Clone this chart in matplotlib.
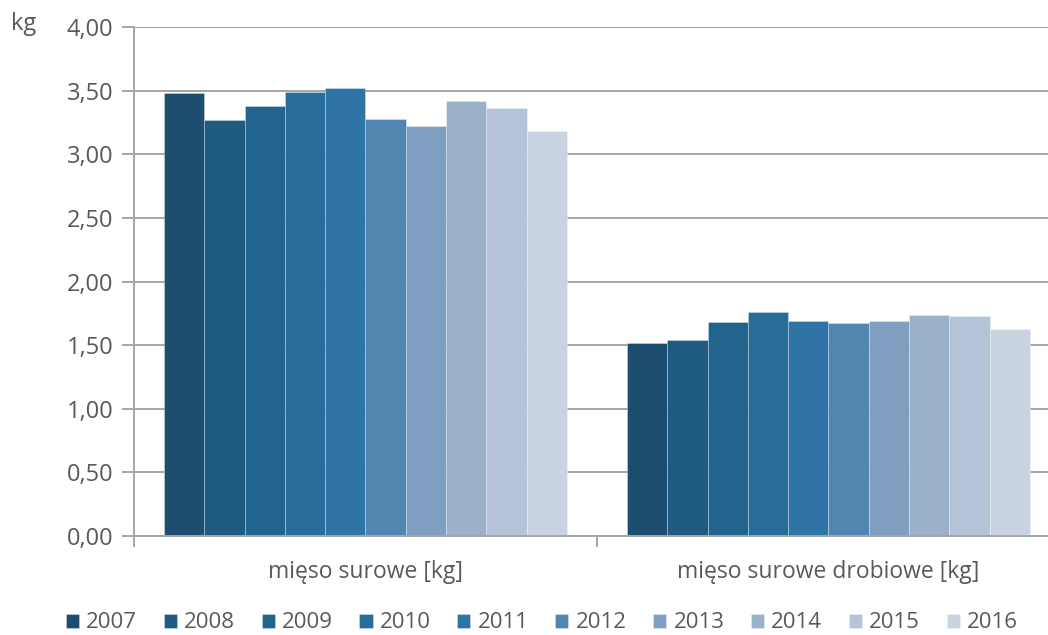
import matplotlib.pyplot as plt
import numpy as np

plt.rcParams['font.family'] = ['Open Sans', 'DejaVu Sans']

categories = ['mięso surowe [kg]', 'mięso surowe drobiowe [kg]']
years = ['2007', '2008', '2009', '2010', '2011', '2012', '2013', '2014', '2015', '2016']
surowe = [3.48, 3.27, 3.38, 3.49, 3.52, 3.28, 3.22, 3.42, 3.36, 3.18]
drobiowe = [1.52, 1.54, 1.68, 1.76, 1.69, 1.67, 1.69, 1.74, 1.73, 1.63]
colors = ['#1d4e6f', '#1f5a80', '#23648e', '#286d9a', '#2e75a6',
          '#5285b0', '#7e9fbf', '#9bb1ca', '#b4c3d7', '#c9d3e0']

grey = '#595959'
line = '#a6a6a6'

fig = plt.figure(figsize=(10.48, 6.35), dpi=100)
ax = fig.add_axes([134 / 1048, 1 - 536 / 635, 926 / 1048, 509 / 635])

x = np.arange(len(categories))
w = 0.087
for i, yr in enumerate(years):
    vals = [surowe[i], drobiowe[i]]
    ax.bar(x - 0.435 + w * (i + 0.5), vals, width=w, color=colors[i],
           edgecolor=(1, 1, 1, 0.35), linewidth=0.6, label=yr, zorder=2)

ax.set_xlim(-0.5, 1.5)
ax.set_ylim(0, 4)
ax.set_yticks(np.arange(0, 4.01, 0.5))
ax.set_yticklabels([f'{v:.2f}'.replace('.', ',') for v in np.arange(0, 4.01, 0.5)])
ax.yaxis.grid(True, color=line, linewidth=1.4, zorder=0)
ax.set_axisbelow(True)

ax.set_xticks(x)
ax.set_xticklabels(categories)
ax.set_xticks([-0.5, 0.5, 1.5], minor=True)
ax.tick_params(axis='x', which='major', length=0, pad=17, labelsize=16.5, labelcolor=grey)
ax.tick_params(axis='x', which='minor', length=8, width=1.4, color=line)
ax.tick_params(axis='y', length=9, width=1.4, color=line, labelsize=17, labelcolor=grey, pad=6)

for s in ['top', 'right']:
    ax.spines[s].set_visible(False)
for s in ['left', 'bottom']:
    ax.spines[s].set_color(line)
    ax.spines[s].set_linewidth(1.4)

fig.text(11 / 1048, 1 - 24 / 635, 'kg', fontsize=17, color=grey, va='center', ha='left')

fig.legend(loc='center', bbox_to_anchor=(0.517, 1 - 623 / 635), ncol=10, frameon=False,
           fontsize=16, labelcolor=grey, handlelength=0.59, handleheight=0.59,
           handletextpad=0.32, columnspacing=1.2)

fig.savefig('out.png', dpi=100)
